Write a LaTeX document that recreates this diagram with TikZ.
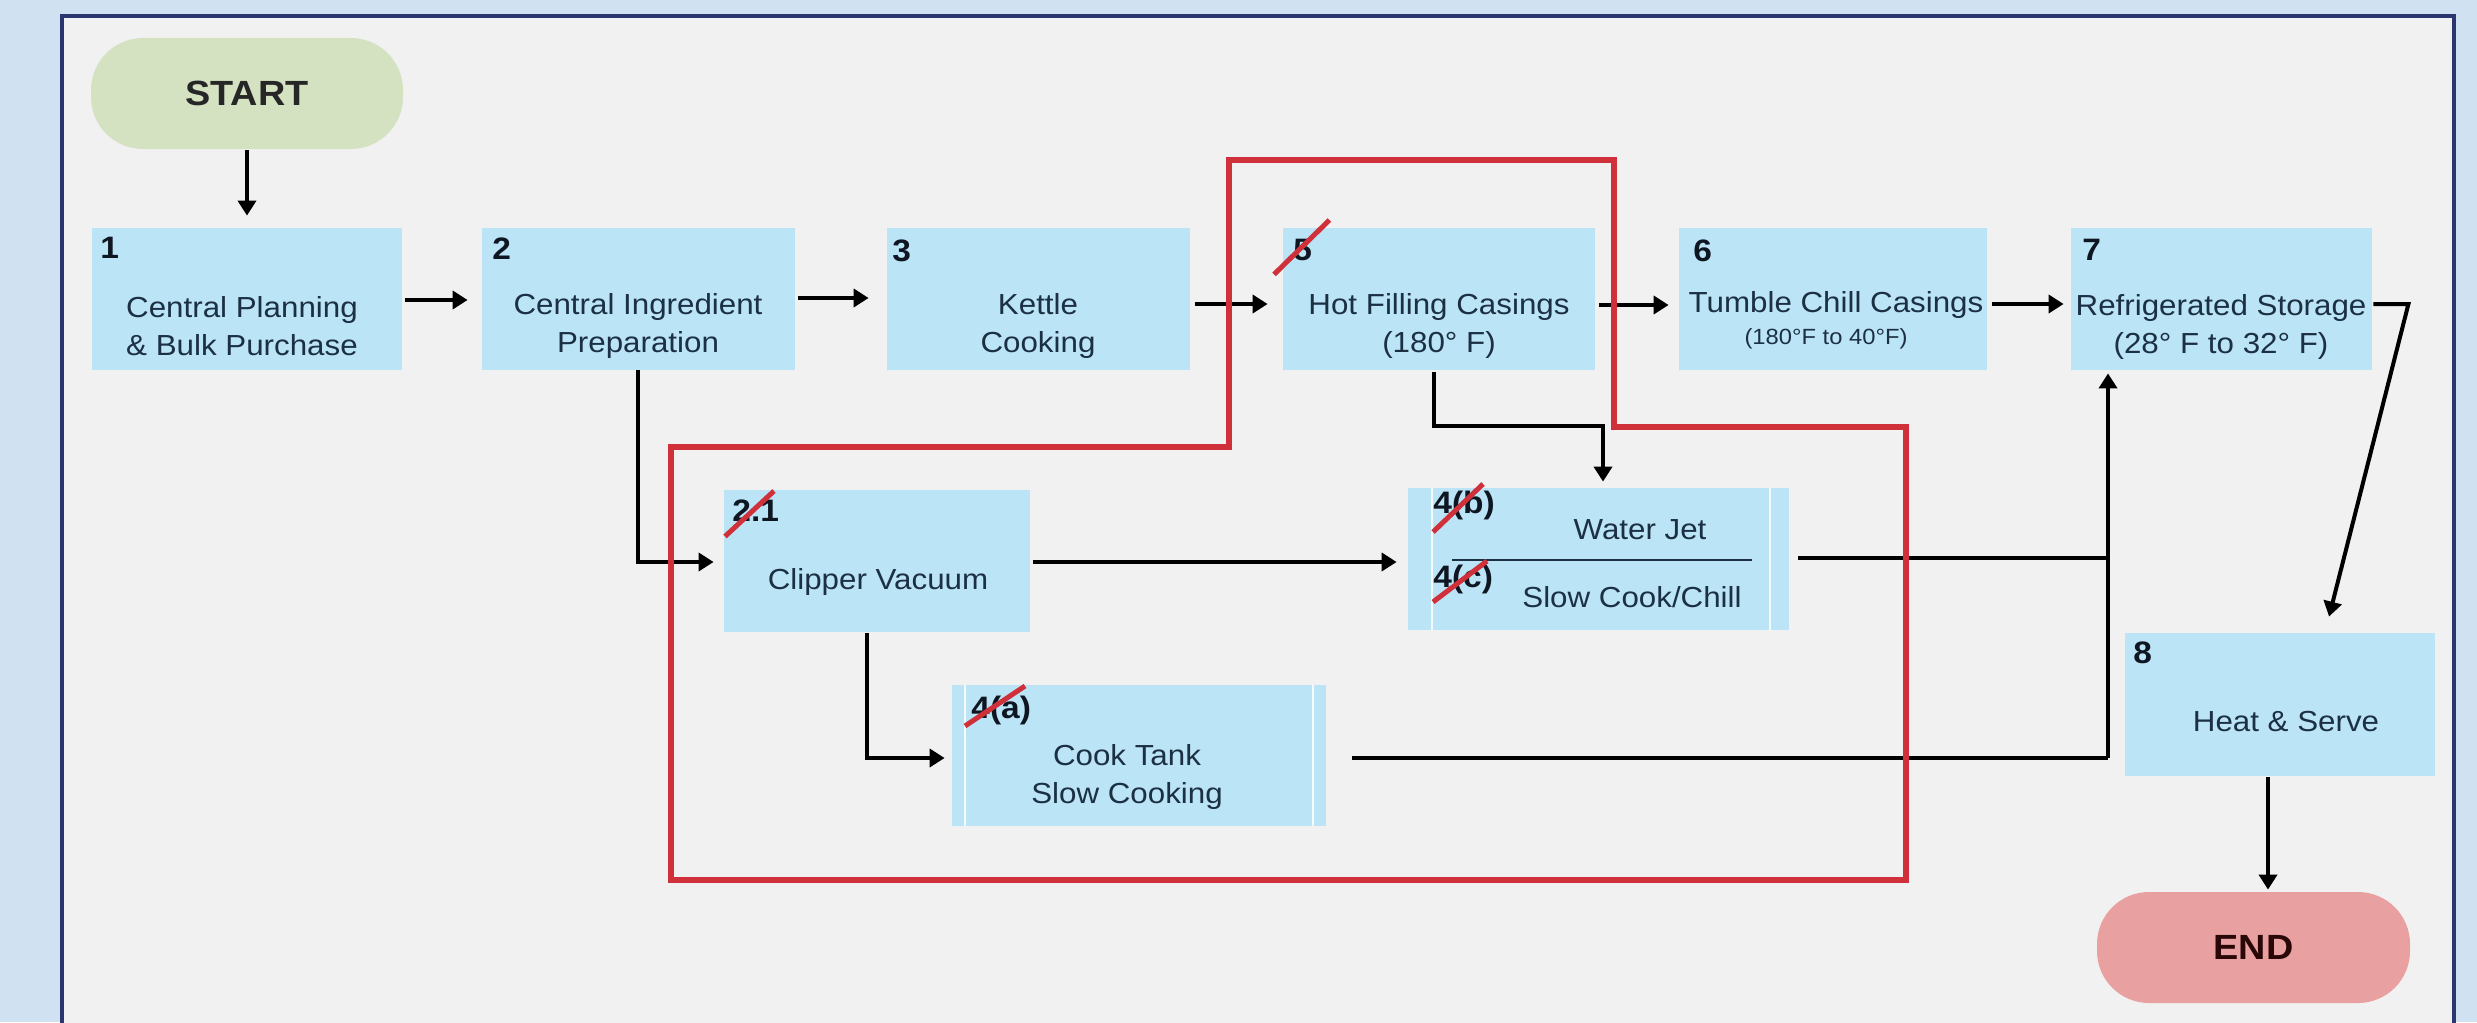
\documentclass[tikz,border=0pt]{standalone}
\usepackage{fontspec}
\setmainfont{Liberation Sans}[FakeStretch=1.08]
\usetikzlibrary{arrows.meta,calc}
\definecolor{outerbg}{HTML}{D0E2F1}
\definecolor{panelbg}{HTML}{F1F1F1}
\definecolor{navy}{HTML}{2B3670}
\definecolor{boxblue}{HTML}{BCE4F7}
\definecolor{txt}{HTML}{1B3042}
\definecolor{numc}{HTML}{0E1622}
\definecolor{startg}{HTML}{D4E2C2}
\definecolor{endr}{HTML}{E9A0A0}
\definecolor{endtxt}{HTML}{2A0808}
\definecolor{redl}{HTML}{D0303A}
\begin{document}
\begin{tikzpicture}[x=0.5pt,y=-0.5pt,
  stepbox/.style={fill=boxblue, draw=none, inner sep=0pt},
  lbl/.style={text=txt, font=\fontsize{14.5}{19}\selectfont, align=center, inner sep=0pt},
  smalllbl/.style={text=txt, font=\fontsize{11}{13}\selectfont, align=center, inner sep=0pt},
  num/.style={text=numc, font=\fontsize{15.5}{17}\selectfont\bfseries, inner sep=0pt, anchor=north west},
  arr/.style={draw=black, line width=2pt, -{Triangle[length=7.5pt,width=9pt]}},
  ln/.style={draw=black, line width=2pt},
  strike/.style={draw=redl, line width=2.5pt},
  term/.style={rounded corners=26pt, inner sep=0pt, font=\fontsize{17.5}{19}\selectfont\bfseries},
  inline/.style={draw=white, line width=1pt, opacity=0.85}
]
\useasboundingbox (0,0) rectangle (2477,1022);
% background and panel
\fill[outerbg] (0,0) rectangle (2477,1022);
\fill[panelbg] (62,16) rectangle (2454,1030);
\draw[navy, line width=2pt] (62,1030) -- (62,16) -- (2454,16) -- (2454,1030);

% terminals
\node[term, fill=startg, text=black!85, minimum width=156pt, minimum height=55.5pt] (start) at (247,93.5) {START};
\node[term, fill=endr, text=endtxt, minimum width=156.5pt, minimum height=55.5pt] (endn) at (2253.5,947.5) {END};

% process boxes
\node[stepbox, minimum width=155pt, minimum height=71pt] (b1) at (247,299) {};
\node[stepbox, minimum width=156.5pt, minimum height=71pt] (b2) at (638.5,299) {};
\node[stepbox, minimum width=151.5pt, minimum height=71pt] (b3) at (1038.5,299) {};
\node[stepbox, minimum width=156pt, minimum height=71pt] (b5) at (1439,299) {};
\node[stepbox, minimum width=154pt, minimum height=71pt] (b6) at (1833,299) {};
\node[stepbox, minimum width=150.5pt, minimum height=71pt] (b7) at (2221.5,299) {};
\node[stepbox, minimum width=153pt, minimum height=71pt] (b21) at (877,561) {};
\node[stepbox, minimum width=190.5pt, minimum height=71pt] (b4bc) at (1598.5,559) {};
\node[stepbox, minimum width=187pt, minimum height=70.5pt] (b4a) at (1139,755.5) {};
\node[stepbox, minimum width=155pt, minimum height=71.5pt] (b8) at (2280,704.5) {};

% inner lines of the predefined-process boxes
\draw[inline] ($(b4a.north west)+(13,0)$) -- ($(b4a.south west)+(13,0)$);
\draw[inline] ($(b4a.north east)+(-13,0)$) -- ($(b4a.south east)+(-13,0)$);
\draw[inline] ($(b4bc.north west)+(24,0)$) -- ($(b4bc.south west)+(24,0)$);
\draw[inline] ($(b4bc.north east)+(-19,0)$) -- ($(b4bc.south east)+(-19,0)$);
\draw[txt, line width=0.8pt] ($(b4bc.west)+(44,1)$) -- ($(b4bc.east)+(-37,1)$);

% texts
\node[lbl] (t1) at (242,326) {Central Planning\\\& Bulk Purchase};
\node[lbl] (t2) at (638,326) {Central Ingredient\\Preparation};
\node[lbl] (t3) at (1038,326) {Kettle\\Cooking};
\node[lbl] (t5) at (1439,326) {Hot Filling Casings\\(180° F)};
\node[lbl] (t6a) at (1836,305) {Tumble Chill Casings};
\node[smalllbl] (t6b) at (1826,339) {(180°F to 40°F)};
\node[lbl] (t7) at (2221,327) {Refrigerated Storage\\(28° F to 32° F)};
\node[lbl] (t21) at (878,582) {Clipper Vacuum};
\node[lbl] (t4a) at (1127,777) {Cook Tank\\Slow Cooking};
\node[lbl] (t4b) at (1640,530) {Water Jet};
\node[lbl] (t4c) at (1632,597) {Slow Cook/Chill};
\node[lbl] (t8) at (2286,722) {Heat \& Serve};

% step numbers
\node[num] (n1) at (100,237) {1};
\node[num] (n2) at (492,237) {2};
\node[num] (n3) at (892,239) {3};
\node[num] (n5) at (1293,239) {5};
\node[num] (n6) at (1693,239) {6};
\node[num] (n7) at (2082,239) {7};
\node[num] (n8) at (2133,641) {8};
\node[num] (n21) at (732,499) {2.1};
\node[num] (n4a) at (971,696) {4(a)};
\node[num] (n4b) at (1433,491) {4(b)};
\node[num] (n4c) at (1433,565) {4(c)};

% connectors
\draw[arr] ($(start.south)+(0,1)$) -- ($(b1.north)+(0,-12)$);
\draw[arr] ($(b1.east)+(3,1)$) -- ($(b2.west)+(-14,1)$);
\draw[arr] ($(b2.east)+(3,-1)$) -- ($(b3.west)+(-18,-1)$);
\draw[arr] ($(b3.east)+(5,5)$) -- ($(b5.west)+(-15,5)$);
\draw[arr] ($(b5.east)+(4,6)$) -- ($(b6.west)+(-10,6)$);
\draw[arr] ($(b6.east)+(5,5)$) -- ($(b7.west)+(-7,5)$);
\draw[arr] ($(b7.east)+(1,5)$) -- ++(35,0) -- ($(b8.north)+(49,-16)$);
\draw[arr] ($(b8.south)+(-12,1)$) -- ($(endn.north)+(14.5,-2)$);
\draw[arr] ($(b2.south)+(-1,0)$) |- ($(b21.west)+(-10,1)$);
\draw[arr] ($(b5.south)+(-5,2)$) -- ++(0,54) -| ($(b4bc.north)+(4.5,-6)$);
\draw[arr] ($(b21.east)+(3,1)$) -- ($(b4bc.west)+(-11,3)$);
\draw[arr] ($(b21.south)+(-10,1)$) |- ($(b4a.west)+(-7,2.5)$);
\coordinate (jt) at (2108,758);
\draw[ln] ($(b4a.east)+(26,2.5)$) -- (jt);
\draw[ln] ($(b4bc.east)+(9,-1)$) -- ($(jt |- b4bc.east)+(0,-1)$);
\draw[arr] (jt) -- ($(jt |- b7.south)+(0,3)$);

% red outline
\draw[redl, line width=3pt] (671,880) -- (671,447) -- (1229,447) -- (1229,160) -- (1614,160) -- (1614,427) -- (1906,427) -- (1906,880) -- cycle;

% red strike-throughs
\draw[strike] ($(n5.south west)+(-19,13)$) -- ($(n5.north east)+(17,-19)$);
\draw[strike] ($(n21.south west)+(-7,15)$) -- ($(n21.north west)+(42,-8)$);
\draw[strike] ($(n4a.north west)+(-6,30)$) -- ($(n4a.north west)+(54,-10)$);
\draw[strike] ($(n4b.north west)+(0,41)$) -- ($(n4b.north west)+(50,-7)$);
\draw[strike] ($(n4c.north west)+(0,37)$) -- ($(n4c.north west)+(54,-4)$);
\end{tikzpicture}
\end{document}
